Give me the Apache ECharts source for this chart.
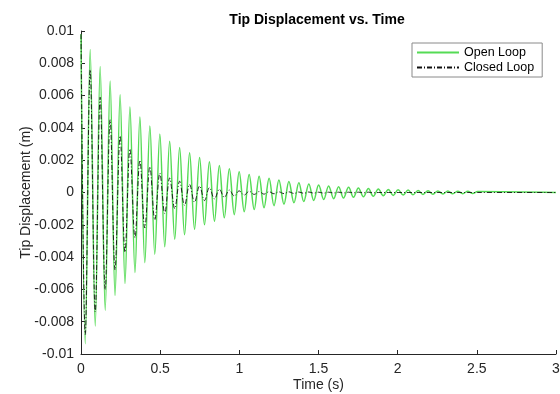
<!DOCTYPE html>
<html>
<head>
<meta charset="utf-8">
<script src="https://cdn.jsdelivr.net/npm/echarts@6/dist/echarts.min.js"></script>
<style>
  html, body { margin: 0; padding: 0; background: #fff; }
  #chart { width: 560px; height: 394px; }
</style>
</head>
<body>
<div id="chart"></div>
<script>
// times of the turning points (peaks / troughs), seconds
const extremaTime = [0, 0.027, 0.058, 0.090, 0.121, 0.153, 0.184, 0.215, 0.247, 0.278,
  0.309, 0.341, 0.372, 0.403, 0.435, 0.466, 0.498, 0.529, 0.560, 0.592,
  0.623, 0.654, 0.686, 0.717, 0.749, 0.780, 0.811, 0.843, 0.874, 0.905,
  0.937, 0.968, 0.999, 1.031, 1.062, 1.094, 1.125, 1.156, 1.188, 1.219,
  1.250, 1.282, 1.313, 1.345, 1.376, 1.407, 1.439, 1.470, 1.501, 1.533,
  1.564, 1.596, 1.627, 1.658, 1.690, 1.721, 1.752, 1.784, 1.815, 1.846,
  1.878, 1.909, 1.941, 1.972, 2.003, 2.035, 2.066, 2.097, 2.129, 2.160,
  2.192, 2.223, 2.254, 2.286, 2.317, 2.348, 2.380, 2.411, 2.443, 2.474,
  2.505, 3.0];

// tip displacement at those turning points, metres
const openLoop = [0.0098, -0.00936, 0.00885, -0.00827, 0.0078, -0.00729, 0.0069, -0.00638, 0.00605, -0.00563,
  0.0053, -0.00495, 0.00468, -0.00434, 0.00412, -0.00382, 0.00362, -0.00336, 0.00318, -0.0029,
  0.00278, -0.00262, 0.00246, -0.00228, 0.00216, -0.002, 0.0019, -0.00178, 0.00167, -0.00157,
  0.00147, -0.00137, 0.00129, -0.00119, 0.00112, -0.00106, 0.001, -0.00094, 0.00088, -0.00082,
  0.00077, -0.00072, 0.00068, -0.00064, 0.0006, -0.00056, 0.00053, -0.00049, 0.00046, -0.00043,
  0.00041, -0.00038, 0.00036, -0.00034, 0.00032, -0.0003, 0.00028, -0.00026, 0.00024, -0.00023,
  0.00021, -0.0002, 0.00019, -0.00018, 0.00017, -0.00016, 0.00015, -0.00014, 0.00013, -0.00012,
  0.00011, -0.00011, 0.0001, -0.00009, 0.00009, -0.00008, 0.00008, -0.00007, 0.00007, -0.00006,
  0.00006, 0];

const closedLoop = [0.0098, -0.0088, 0.0076, -0.0074, 0.0059, -0.006, 0.0045, -0.0048, 0.0035, -0.0037,
  0.0027, -0.0028, 0.002, -0.0022, 0.0016, -0.0017, 0.0012, -0.0013, 0.0009, -0.001,
  0.0007, -0.0008, 0.0005, -0.0006, 0.0004, -0.0005, 0.0003, -0.0004, 0.0002, -0.0003,
  0.00015, -0.00022, 0.0001, -0.00016, 0.00008, -0.00012, 0.00006, -0.0001, 0.00005, -0.00008,
  0.00004, -0.00007, 0.00004, -0.00006, 0.00003, -0.00005, 0.00003, -0.00004, 0.00002, -0.00004,
  0.00002, -0.00003, 0.00002, -0.00003, 0.00002, -0.00002, 0.00002, -0.00002, 0.00002, -0.00002,
  0, 0, 0, 0, 0, 0, 0, 0, 0, 0,
  0, 0, 0, 0, 0, 0, 0, 0, 0, 0,
  0, 0];

const xTicks = [0, 0.5, 1, 1.5, 2, 2.5, 3];
const seriesNames = ['Open Loop', 'Closed Loop'];

const font = 'Liberation Sans, Arial, Helvetica, sans-serif';
const axisColor = '#262626';
const green = '#55db55';

const chart = echarts.init(document.getElementById('chart'), null, { renderer: 'canvas' });

chart.setOption({
  animation: false,
  backgroundColor: '#fff',
  title: {
    text: 'Tip Displacement vs. Time',
    left: 317,
    top: 13,
    padding: 0,
    textAlign: 'center',
    textStyle: { fontFamily: font, fontSize: 14, fontWeight: 'bold', color: '#000' }
  },
  legend: {
    data: seriesNames,
    orient: 'vertical',
    left: 412,
    top: 43,
    padding: [3, 8, 3, 4],
    itemGap: 2,
    itemWidth: 42,
    itemHeight: 14,
    backgroundColor: '#fff',
    borderColor: '#8a8a8a',
    borderWidth: 1,
    // hide the marker dot, keep only the line sample
    itemStyle: { opacity: 0 },
    textStyle: { fontFamily: font, fontSize: 12.5, color: '#000' }
  },
  grid: { left: 81, right: 4, top: 31, bottom: 40, outerBoundsMode: 'none' },
  xAxis: {
    type: 'value',
    min: xTicks[0],
    max: xTicks[xTicks.length - 1],
    interval: 0.5,
    name: 'Time (s)',
    nameLocation: 'middle',
    nameGap: 24,
    nameMoveOverlap: false,
    nameTextStyle: { fontFamily: font, fontSize: 14, color: axisColor },
    axisLine: { onZero: false, lineStyle: { color: axisColor, width: 1 } },
    axisTick: { inside: true, length: 4, lineStyle: { color: axisColor } },
    axisLabel: { fontFamily: font, fontSize: 14, color: axisColor, margin: 8 },
    splitLine: { show: false }
  },
  yAxis: {
    type: 'value',
    min: -0.01,
    max: 0.01,
    interval: 0.002,
    name: 'Tip Displacement (m)',
    nameLocation: 'middle',
    nameGap: 48,
    nameMoveOverlap: false,
    nameTextStyle: { fontFamily: font, fontSize: 14, color: axisColor },
    axisLine: { show: true, onZero: false, lineStyle: { color: axisColor, width: 1 } },
    axisTick: { show: true, inside: true, length: 4, lineStyle: { color: axisColor } },
    axisLabel: {
      fontFamily: font, fontSize: 14, color: axisColor, margin: 7,
      formatter: v => String(+v.toFixed(3))
    },
    splitLine: { show: false }
  },
  series: [
    {
      name: seriesNames[0],
      type: 'line',
      data: extremaTime.map((t, i) => [t, openLoop[i]]),
      symbol: 'none',
      smooth: 0.36,
      lineStyle: { color: green, width: 1.5 },
      itemStyle: { color: green },
      z: 2
    },
    {
      name: seriesNames[1],
      type: 'line',
      data: extremaTime.map((t, i) => [t, closedLoop[i]]),
      symbol: 'none',
      smooth: 0.36,
      lineStyle: { color: '#111', width: 0.9, type: [5, 2, 1, 2] },
      itemStyle: { color: '#111' },
      z: 3
    }
  ]
});
</script>
</body>
</html>
